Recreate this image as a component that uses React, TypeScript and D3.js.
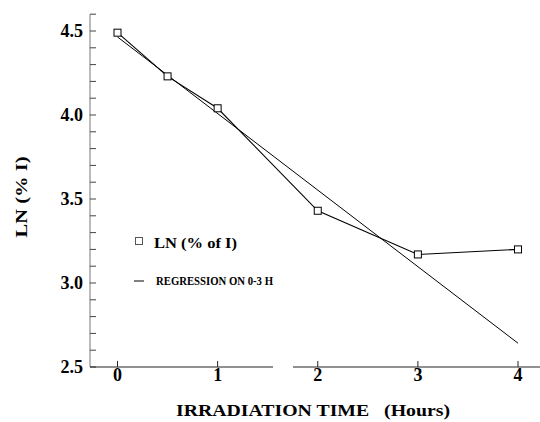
import React from "react";
import * as d3 from "d3";

// Irradiation time (hours) and LN of percentage of initial
const hours = [0, 0.5, 1, 2, 3, 4];
const lnPercent = [4.49, 4.23, 4.04, 3.43, 3.17, 3.2];
const xTicks = [0, 1, 2, 3, 4];
const yMajorTicks = [2.5, 3.0, 3.5, 4.0, 4.5];
const regressionUpTo = 3;

const W = 540;
const H = 422;
const FONT = "'Liberation Serif', 'Times New Roman', serif";

export default function App() {
  const x = d3.scaleLinear().domain([0, 4]).range([117.5, 518]);
  const y = d3.scaleLinear().domain([2.5, 4.6]).range([367, 14.2]);

  const pts = hours.map((h, i) => ({ h, v: lnPercent[i] }));

  // least-squares fit on 0-3 h
  const fitPts = pts.filter((p) => p.h <= regressionUpTo);
  const mx = d3.mean(fitPts, (p) => p.h) as number;
  const my = d3.mean(fitPts, (p) => p.v) as number;
  const sxy = d3.sum(fitPts, (p) => (p.h - mx) * (p.v - my));
  const sxx = d3.sum(fitPts, (p) => (p.h - mx) ** 2);
  const slope = sxy / sxx;
  const intercept = my - slope * mx;
  const regLine = [0, 4].map((h) => ({ h, v: intercept + slope * h }));

  const line = d3
    .line<{ h: number; v: number }>()
    .x((d) => x(d.h))
    .y((d) => y(d.v));

  const minorTicks = d3.range(25, 47).map((k) => k / 10);
  const x0 = 90;
  const yBase = y(2.5);

  return (
    <svg
      width={W}
      height={H}
      style={{ position: "absolute", left: 0, top: 0, background: "#fff" }}
      fontFamily={FONT}
    >
      {/* y axis */}
      <line x1={x0} x2={x0} y1={y(4.6)} y2={yBase} stroke="#777" strokeWidth={1} />
      {minorTicks.map((t) => (
        <line
          key={t}
          x1={x0}
          x2={x0 + 6}
          y1={y(t)}
          y2={y(t)}
          stroke="#444"
          strokeWidth={1}
        />
      ))}
      {yMajorTicks.map((t) => (
        <text
          key={t}
          x={x0 - 7}
          y={y(t) + 6}
          textAnchor="end"
          fontSize={18}
          fontWeight="bold"
        >
          {t.toFixed(1)}
        </text>
      ))}

      {/* x axis, drawn with a break between 1 and 2 */}
      <line x1={x0} x2={273} y1={yBase} y2={yBase} stroke="#222" strokeWidth={1} />
      <line x1={293} x2={540} y1={yBase} y2={yBase} stroke="#222" strokeWidth={1} />
      {xTicks.map((t) => (
        <g key={t}>
          <line x1={x(t)} x2={x(t)} y1={yBase} y2={yBase - 6} stroke="#222" strokeWidth={1} />
          <text
            x={x(t)}
            y={yBase + 14}
            textAnchor="middle"
            fontSize={18}
            fontWeight="bold"
          >
            {t}
          </text>
        </g>
      ))}

      {/* axis titles */}
      <text
        x={313}
        y={416}
        textAnchor="middle"
        fontSize={17}
        fontWeight="bold"
        textLength={274}
        lengthAdjust="spacingAndGlyphs"
        xmlSpace="preserve"
      >
        IRRADIATION TIME   (Hours)
      </text>
      <text
        transform={`translate(27, 197) rotate(-90)`}
        textAnchor="middle"
        fontSize={17}
        fontWeight="bold"
        textLength={81}
        lengthAdjust="spacingAndGlyphs"
      >
        LN (% I)
      </text>

      {/* regression line */}
      <path d={line(regLine) || ""} fill="none" stroke="#000" strokeWidth={1} />

      {/* data */}
      <path d={line(pts) || ""} fill="none" stroke="#000" strokeWidth={1.1} />
      {pts.map((p) => (
        <rect
          key={p.h}
          x={x(p.h) - 3.5}
          y={y(p.v) - 3.5}
          width={7}
          height={7}
          fill="#fff"
          stroke="#000"
          strokeWidth={1}
        />
      ))}

      {/* legend */}
      <rect x={135.5} y={237.5} width={7} height={7} fill="#fff" stroke="#555" strokeWidth={1} />
      <text
        x={154}
        y={248}
        fontSize={15}
        fontWeight="bold"
        textLength={83}
        lengthAdjust="spacingAndGlyphs"
      >
        LN (% of I)
      </text>
      <line x1={134} x2={144} y1={281} y2={281} stroke="#000" strokeWidth={1} />
      <text
        x={156}
        y={285}
        fontSize={12}
        fontWeight="bold"
        textLength={117}
        lengthAdjust="spacingAndGlyphs"
      >
        REGRESSION ON 0-3 H
      </text>
    </svg>
  );
}
